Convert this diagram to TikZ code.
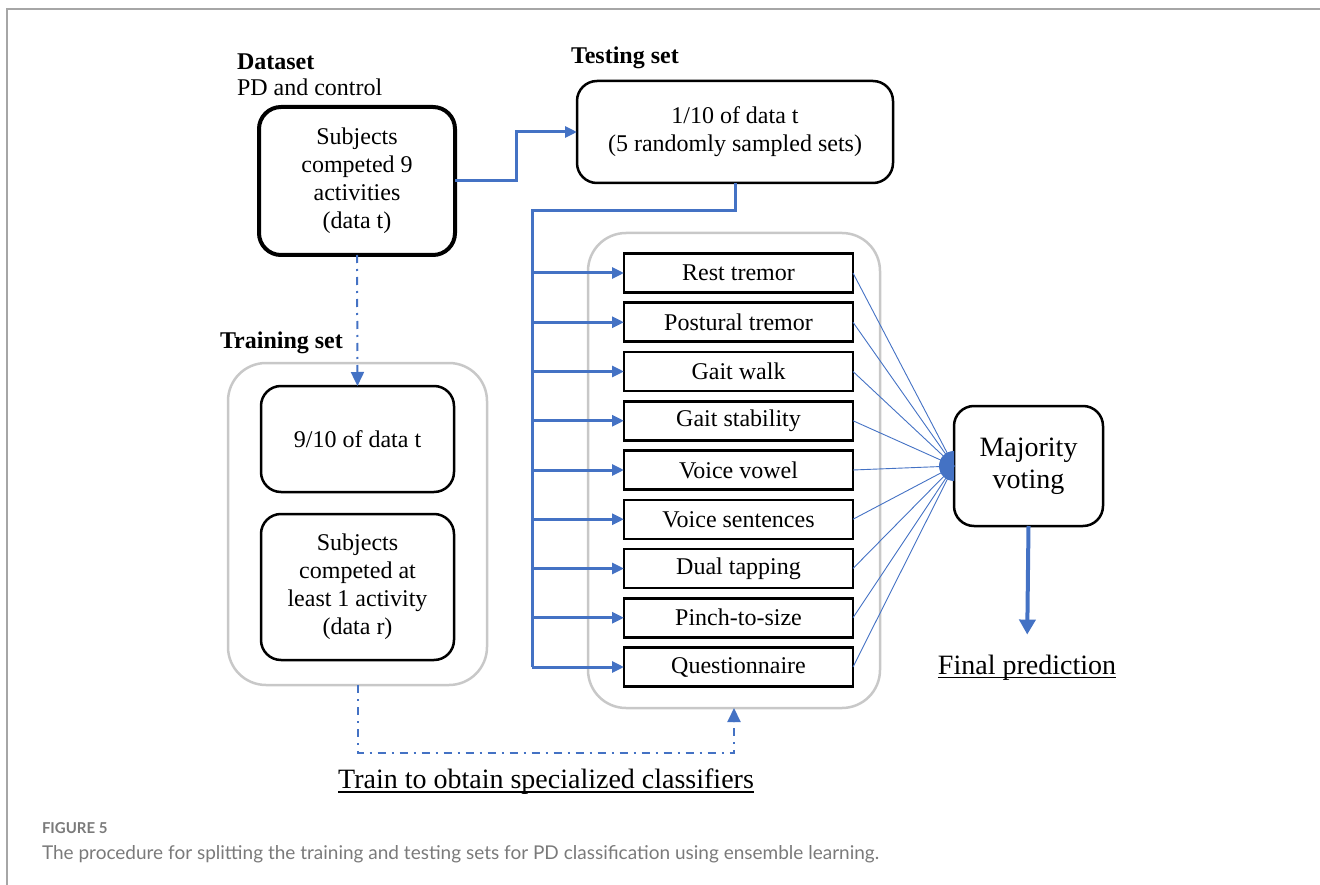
\documentclass[tikz,border=0pt]{standalone}
\usepackage{fontspec}
\setmainfont{Liberation Serif}
\newfontfamily\capfont{Lato}
\usetikzlibrary{arrows.meta,calc}
\definecolor{myblue}{HTML}{4472C4}
\definecolor{boxgrey}{HTML}{C8C8C8}
\definecolor{framegrey}{HTML}{A6A6A6}
\definecolor{capgrey}{HTML}{7A7A7A}
\begin{document}
\begin{tikzpicture}[x=1pt,y=-1pt,
  every node/.style={inner sep=0pt, outer sep=0pt},
  txt/.style={font=\fontsize{24}{28}\selectfont, align=center},
  lbl/.style={font=\fontsize{24}{28}\selectfont\bfseries, anchor=west},
  rbox/.style={draw=black, line width=2.5pt, rounded corners=20pt, fill=white, txt},
  dsbox/.style={draw=black, line width=4pt, rounded corners=22pt, txt},
  grpbox/.style={draw=boxgrey, line width=2.5pt, rounded corners=38pt},
  clsbox/.style={draw=black, line width=2.5pt, txt, minimum width=229pt, minimum height=39pt},
  conn/.style={draw=myblue, line width=3pt},
  arr/.style={conn, -{Triangle[length=12pt,width=11pt]}},
  fan/.style={draw=myblue, line width=0.9pt},
  dd/.style={draw=myblue, line width=2pt, dash pattern=on 8pt off 6pt on 2pt off 6pt},
  ddarr/.style={dd, -{Triangle[length=14pt,width=13pt]}},
  big/.style={font=\fontsize{28}{32}\selectfont},
  ]
\useasboundingbox (0,0) rectangle (1320,885);
\draw[framegrey, line width=2pt] (7,885) -- (7,9) -- (1320,9);

% dataset
\node[lbl] (dsl) at (237,62) {Dataset};
\node[txt, anchor=west] (dsl2) at (237,87) {PD and control};
\node[dsbox, minimum width=196pt, minimum height=148pt] (ds) at (357,181) {Subjects\\competed 9\\activities\\(data t)};

% testing
\node[lbl] (tsl) at (571,58) {Testing set};
\node[rbox, minimum width=316pt, minimum height=102pt] (ts) at (735,132) {1/10 of data t\\(5 randomly sampled sets)};

% training
\node[lbl] (trl) at (220,343) {Training set};
\node[grpbox, minimum width=259pt, minimum height=322pt] (tr) at (357.5,524) {};
\node[rbox, minimum width=193pt, minimum height=106pt] (ninth) at (357.5,439) {9/10 of data t};
\node[rbox, minimum width=193pt, minimum height=146pt] (subj) at (357.5,587) {Subjects\\competed at\\least 1 activity\\(data r)};

% classifiers
\node[grpbox, minimum width=292pt, minimum height=475pt] (cls) at (734,470.5) {};
\foreach \i/\t in {1/Rest tremor,2/Postural tremor,3/Gait walk,4/Gait stability,5/Voice vowel,6/Voice sentences,7/Dual tapping,8/Pinch-to-size,9/Questionnaire}{
  \node[clsbox] (c\i) at (738.5,{273+49.25*(\i-1)}) {\t};
}

% majority
\node[rbox, big, minimum width=149pt, minimum height=120pt] (mv) at (1028.5,466) {Majority\\voting};
\node[big, anchor=base] (fin) at (1027,674) {Final prediction};
\draw[line width=1.5pt] ($(fin.base west)+(0,3.5)$) -- ($(fin.base east)+(0,3.5)$);

\node[big, anchor=base] (train) at (546,788) {Train to obtain specialized classifiers};
\draw[line width=1.5pt] ($(train.base west)+(0,4)$) -- ($(train.base east)+(0,4)$);

% connectors
\coordinate (bend) at ($(ds.east)+(61,0)$);
\draw[arr] (ds.east) -- (bend) |- (ts.west);

\coordinate (tk) at (532,211);
\draw[conn] (ts.south) |- (tk) -- (tk |- c9.west);
\foreach \i in {1,...,9}{
  \draw[arr] (tk |- c\i.west) -- (c\i.west);
  \draw[fan] (c\i.east) -- (mv.west);
}
\fill[myblue] (mv.west) ++(0pt,15pt) arc[start angle=90, end angle=270, radius=15pt] -- cycle;

\draw[conn, line width=4pt, shorten >=20pt, -{Triangle[length=15pt,width=16pt]}] (mv.south) -- (fin.north);

\draw[ddarr] (ds.south) -- (ninth.north);
\coordinate (tb) at (357.5,753);
\draw[ddarr] (tr.south) -- (tb) -| (cls.south);

% caption
\node[anchor=base west, font=\capfont\fontsize{15}{18}\selectfont\bfseries, text=capgrey] (figl) at (42,833) {FIGURE 5};
\node[anchor=base west, font=\capfont\fontsize{19}{22}\selectfont, text=capgrey] (cap) at (42,859) {The procedure for splitting the training and testing sets for PD classification using ensemble learning.};
\end{tikzpicture}
\end{document}
